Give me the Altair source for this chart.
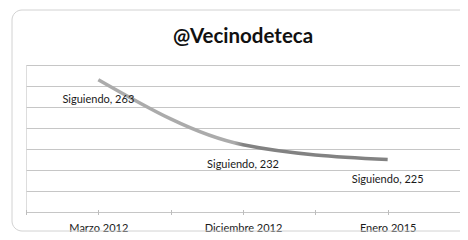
import altair as alt
import pandas as pd

categories = ["Marzo 2012", "Diciembre 2012", "Enero 2015"]
values = [263, 232, 225]
series_name = "Siguiendo"
title_text = "@Vecinodeteca"

df = pd.DataFrame({
    "cat": categories,
    "pos": [i + 0.5 for i in range(len(categories))],
    "val": values,
    "label": [f"{series_name}, {v}" for v in values],
})

n = len(categories)
tick_vals = [i * 0.5 for i in range(2 * n + 1)]
label_arr = []
for i in range(2 * n + 1):
    label_arr.append(categories[i // 2] if i % 2 == 1 else "")
label_js = "[" + ",".join("'" + s + "'" for s in label_arr) + "]"

FONT = "Lato"
W, H = 434, 147

xscale = alt.Scale(domain=[0, n], nice=False, zero=False)
yscale = alt.Scale(domain=[200, 270], nice=False, zero=False)

x_enc = alt.X(
    "pos:Q",
    scale=xscale,
    axis=alt.Axis(
        values=tick_vals,
        labelExpr=label_js + "[round(datum.value*2)]",
        title=None,
        grid=False,
        domain=False,
        ticks=True,
        tickSize=5,
        tickColor="#bdbdbd",
        offset=-2.5,
        labelPadding=7.5,
        labelFont=FONT,
        labelFontSize=11,
        labelColor="#1a1a1a",
        labelFlush=False,
        labelOverlap=False,
    ),
)
y_enc = alt.Y(
    "val:Q",
    scale=yscale,
    axis=alt.Axis(
        values=list(range(200, 271, 10)),
        grid=True,
        gridColor="#c6c6c6",
        gridWidth=1,
        labels=False,
        ticks=False,
        domain=False,
        title=None,
    ),
)

frame = alt.Chart(pd.DataFrame({"a": [0]})).mark_rect(
    fill=None, stroke="#d2d2d2", strokeWidth=1, cornerRadius=10
).encode(
    x=alt.value(-14), x2=alt.value(460), y=alt.value(-55), y2=alt.value(166)
)

title = alt.Chart(pd.DataFrame({"t": [title_text]})).mark_text(
    font=FONT, fontSize=20.5, fontWeight="bold", color="#111111",
    align="center", baseline="middle",
).encode(x=alt.value(W / 2), y=alt.value(-28), text="t:N")

line = alt.Chart(df).mark_line(
    interpolate="monotone",
    strokeWidth=3.5,
    color=alt.Gradient(
        gradient="linear",
        stops=[
            alt.GradientStop(color="#ababab", offset=0),
            alt.GradientStop(color="#ababab", offset=0.47),
            alt.GradientStop(color="#828282", offset=0.5),
            alt.GradientStop(color="#828282", offset=1),
        ],
        x1=0, x2=1, y1=0, y2=0,
    ),
).encode(x=x_enc, y=y_enc)

labels = alt.Chart(df).mark_text(
    dy=20, font=FONT, fontSize=11, color="#1a1a1a", align="center"
).encode(x=x_enc, y=y_enc, text="label:N")

chart = alt.layer(frame, title, line, labels).properties(
    width=W,
    height=H,
    autosize=alt.AutoSizeParams(type="none"),
    padding={"left": 18, "top": 57, "right": 0, "bottom": 20},
).configure_view(stroke=None).configure(background="white")

chart.save("out.html", embed_options={"renderer": "svg", "actions": False})
